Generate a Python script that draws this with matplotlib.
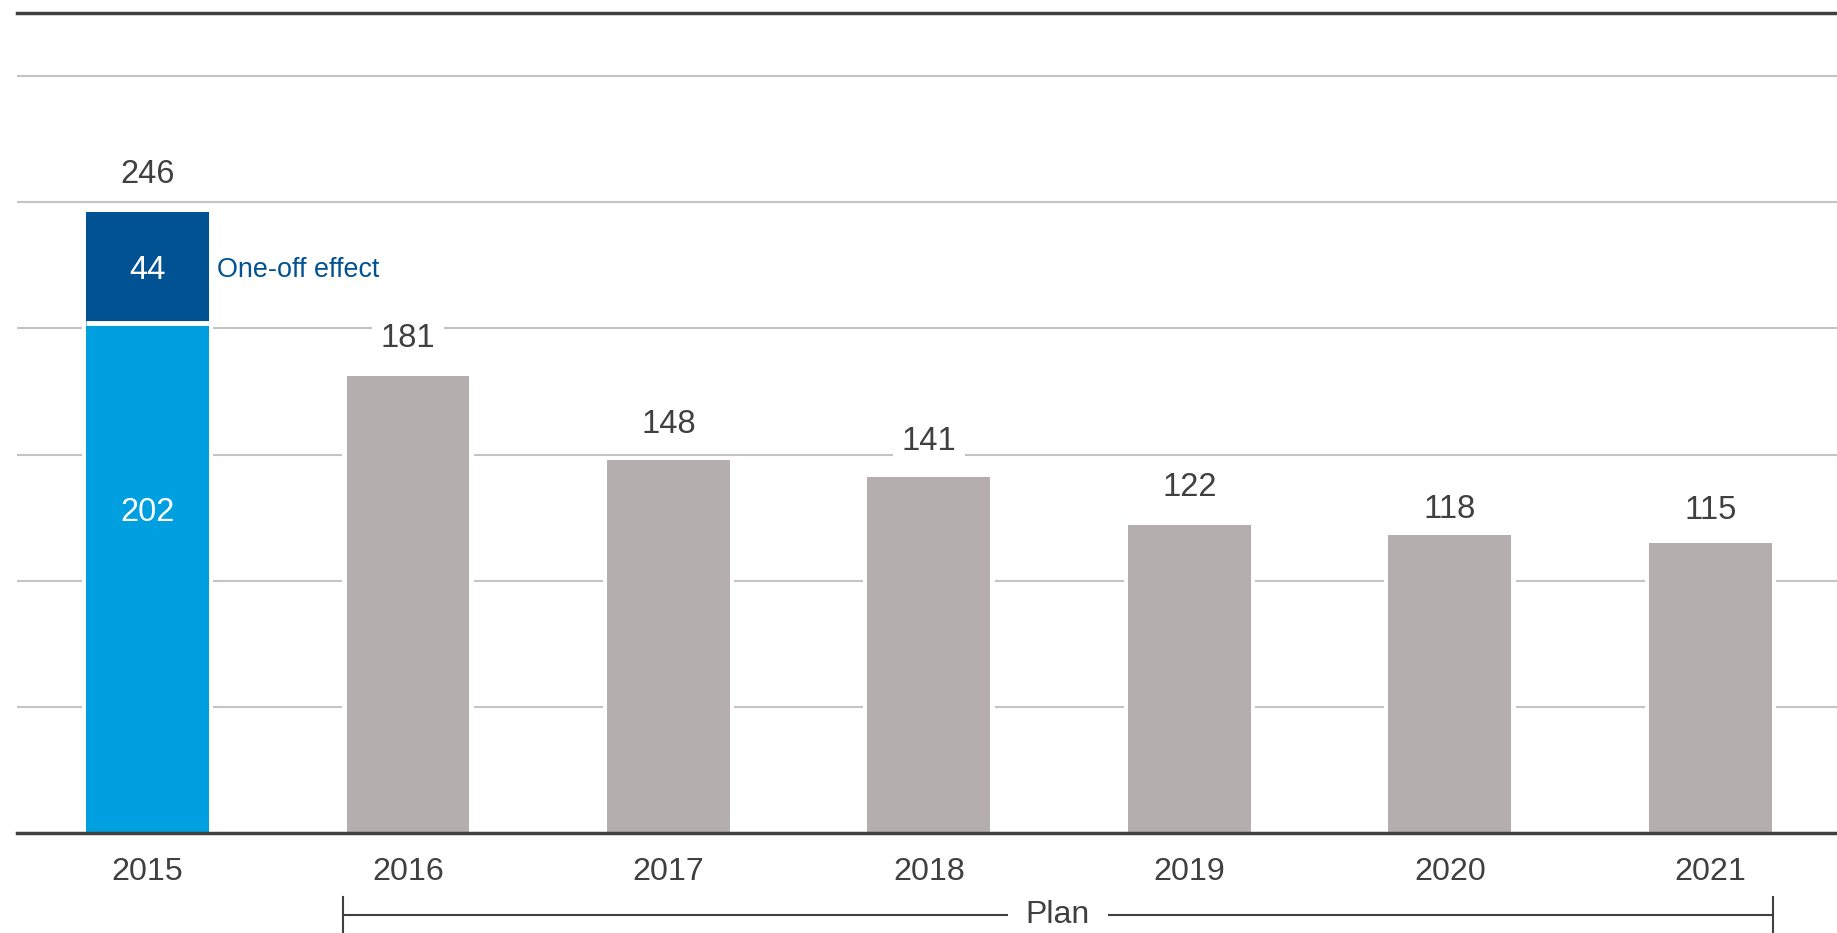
import numpy as np
import matplotlib
matplotlib.use("Agg")
import matplotlib.pyplot as plt

plt.rcParams['font.family'] = ['Liberation Sans', 'DejaVu Sans']

years = ['2015', '2016', '2017', '2018', '2019', '2020', '2021']
base = [202, 181, 148, 141, 122, 118, 115]
one_off = 44
one_off_label = 'One-off effect'
plan_label = 'Plan'

TXT = '#404040'
LIGHT_BLUE = '#009FE0'
DARK_BLUE = '#005293'
GREY = '#B4AEAE'
GRID = '#C4C4C4'

# how far each total label sits above its bar (the original is a bit uneven)
label_gap = [15.0, 15.2, 13.9, 14.3, 14.8, 10.3, 12.7]

fig = plt.figure(figsize=(18.37, 9.33), dpi=100)
ax = fig.add_axes([0.00925, 0.1072, 0.99075, 0.8788])

x = np.arange(len(years))
w = 0.472
gap = 0.017

totals = list(base)
totals[0] = base[0] + one_off

# gridlines
for g in range(50, 301, 50):
    ax.axhline(g, color=GRID, lw=1.5, zorder=1)

# white masks so the gridlines break around the bars
ax.bar(x, totals, width=w + 2 * gap, color='white', zorder=2)

colors = [LIGHT_BLUE] + [GREY] * (len(years) - 1)
ax.bar(x, base, width=w, color=colors, zorder=3)
ax.bar(x[0], one_off, bottom=base[0], width=w, color=DARK_BLUE, zorder=3)
ax.hlines(base[0], x[0] - w / 2, x[0] + w / 2, color='white', lw=3.5, zorder=4)

# value labels
for xi, t, d in zip(x, totals, label_gap):
    ax.text(xi, t + d, str(t), ha='center', va='center', fontsize=23.5, color=TXT,
            zorder=5, bbox=dict(facecolor='white', edgecolor='none', pad=6))
ax.text(x[0], base[0] + one_off / 2 - 1, str(one_off), ha='center', va='center',
        fontsize=23.5, color='white', zorder=5)
ax.text(x[0], 127, str(base[0]), ha='center', va='center',
        fontsize=23.5, color='white', zorder=5)
ax.text(x[0] + w / 2 + 0.03, base[0] + one_off / 2 - 1, one_off_label, ha='left',
        va='center', fontsize=19.4, color=DARK_BLUE, zorder=5)

# year labels
trans = ax.get_xaxis_transform()
for xi, yr in zip(x, years):
    ax.text(xi, -0.048, yr, ha='center', va='center', fontsize=23.2, color=TXT,
            transform=trans, clip_on=False)

# plan bracket
x0 = x[1] - w / 2 - 0.015
x1 = x[-1] + w / 2 + 0.005
ax.plot([x0, x1], [-0.1, -0.1], color=TXT, lw=1.5, transform=trans, clip_on=False)
for xe in (x0, x1):
    ax.plot([xe, xe], [-0.078, -0.125], color=TXT, lw=1.5, transform=trans, clip_on=False)
ax.text((x0 + x1) / 2, -0.1, plan_label, ha='center', va='center', fontsize=23,
        color=TXT, transform=trans, clip_on=False,
        bbox=dict(facecolor='white', edgecolor='none', pad=13))

ax.set_xlim(-0.501, 6.486)
ax.set_ylim(0, 325)
ax.set_xticks([])
ax.set_yticks([])
for s in ['left', 'right']:
    ax.spines[s].set_visible(False)
ax.spines['top'].set_color(TXT)
ax.spines['top'].set_linewidth(2.5)
ax.spines['bottom'].set_color(TXT)
ax.spines['bottom'].set_linewidth(2.5)
ax.spines['bottom'].set_zorder(6)

fig.savefig('out.png', dpi=100)
